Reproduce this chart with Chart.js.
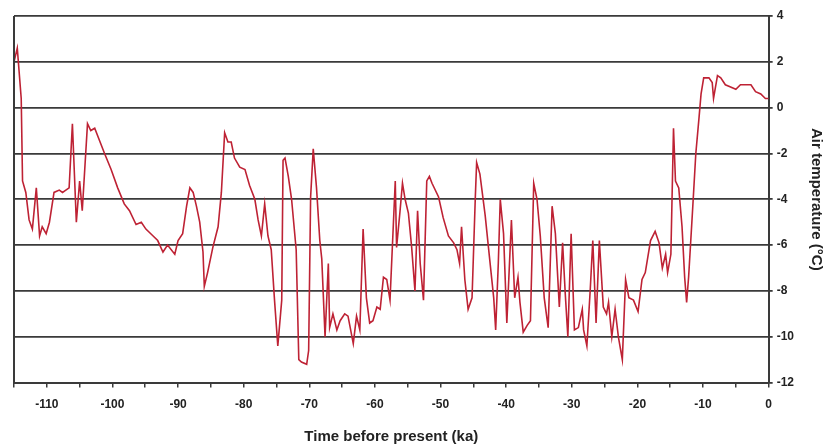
<!DOCTYPE html>
<html>
<head>
<meta charset="utf-8">
<script src="https://cdn.jsdelivr.net/npm/chart.js@4/dist/chart.umd.min.js"></script>
<style>
    html, body { margin: 0; padding: 0; background: #fff; }
    #wrap { width: 825px; height: 448px; }
</style>
</head>
<body>
<div id="wrap"><canvas id="Temp"></canvas></div>
<script>
// age in ka (negative = before present) and air temperature in degC
var Ages = [
    -115.0, -114.5, -113.9, -113.7, -113.2, -112.7, -112.2, -111.6, -111.1, -110.7,
    -110.1, -109.6, -108.9, -108.1, -107.6, -107.1, -106.6, -106.1, -105.5, -105.0,
    -104.6, -103.8, -103.3, -102.7, -101.2, -100.2, -99.2, -98.2, -97.4, -96.4,
    -95.6, -94.9, -93.8, -93.1, -92.3, -91.6, -90.5, -90.0, -89.3, -88.7,
    -88.2, -87.7, -87.2, -86.7, -86.2, -86.0, -85.5, -84.7, -83.9, -83.4,
    -82.9, -82.4, -81.9, -81.4, -80.6, -79.8, -79.1, -78.3, -77.8, -77.3,
    -76.8, -76.3, -75.8, -75.3, -74.8, -74.2, -74.0, -73.7, -73.2, -72.7,
    -72.0, -71.6, -71.2, -70.4, -70.1, -69.8, -69.4, -68.9, -68.4, -68.1,
    -67.6, -67.1, -66.9, -66.4, -65.8, -65.3, -64.6, -64.1, -63.3, -62.8,
    -62.3, -61.8, -61.3, -60.8, -60.3, -59.7, -59.2, -58.7, -58.2, -57.7,
    -56.9, -56.7, -56.2, -55.8, -55.4, -54.9, -54.4, -53.9, -53.5, -53.1,
    -52.6, -52.1, -51.7, -51.3, -50.3, -49.6, -48.8, -48.0, -47.5, -47.1,
    -46.8, -46.3, -45.8, -45.2, -44.7, -44.5, -44.0, -43.2, -42.7, -41.9,
    -41.6, -41.2, -40.9, -40.4, -39.9, -39.2, -38.7, -38.2, -37.9, -37.4,
    -36.8, -36.3, -35.8, -35.3, -34.8, -34.2, -33.6, -33.0, -32.5, -31.9,
    -31.4, -31.0, -30.6, -30.1, -29.6, -29.0, -28.4, -28.2, -27.7, -27.2,
    -26.8, -26.3, -25.8, -25.2, -24.7, -24.4, -23.9, -23.4, -22.9, -22.3,
    -21.8, -21.3, -20.6, -19.9, -19.3, -18.8, -18.0, -17.3, -16.7, -16.2,
    -15.7, -15.4, -14.9, -14.5, -14.2, -13.7, -13.2, -12.8, -12.5, -12.2,
    -11.6, -11.1, -10.6, -10.3, -9.9, -9.1, -8.6, -8.4, -7.8, -7.3,
    -6.6, -5.8, -5.0, -4.3, -3.5, -2.7, -2.0, -1.2, -0.5, 0.0
]
var Temps = [
    2.0, 2.6, 0.4, -3.2, -3.7, -4.9, -5.3, -3.5, -5.6, -5.2,
    -5.5, -5.0, -3.7, -3.6, -3.7, -3.6, -3.5, -0.7, -5.0, -3.2,
    -4.5, -0.7, -1.0, -0.9, -2.0, -2.7, -3.5, -4.2, -4.5, -5.1,
    -5.0, -5.3, -5.6, -5.8, -6.3, -6.0, -6.4, -5.8, -5.5, -4.3,
    -3.5, -3.7, -4.3, -5.0, -6.3, -7.8, -7.2, -6.1, -5.2, -3.7,
    -1.1, -1.5, -1.5, -2.2, -2.6, -2.7, -3.4, -4.0, -4.9, -5.6,
    -4.2, -5.6, -6.2, -8.4, -10.4, -8.4, -2.3, -2.2, -3.0, -4.0,
    -6.2, -11.0, -11.1, -11.2, -10.6, -3.9, -1.8, -3.5, -5.8, -6.6,
    -10.0, -6.8, -9.6, -9.0, -9.7, -9.3, -9.0, -9.1, -10.3, -9.1,
    -9.7, -5.3, -8.3, -9.4, -9.3, -8.7, -8.8, -7.4, -7.5, -8.4,
    -3.2, -6.1, -4.6, -3.3, -4.0, -4.6, -6.1, -8.0, -4.5, -6.8,
    -8.4, -3.2, -3.0, -3.3, -3.9, -4.8, -5.6, -5.9, -6.2, -6.8,
    -5.2, -7.5, -8.8, -8.3, -3.9, -2.4, -2.9, -4.7, -6.1, -8.3,
    -9.7, -6.8, -4.0, -5.5, -9.4, -4.9, -8.3, -7.4, -8.5, -9.8,
    -9.5, -9.3, -3.3, -4.0, -5.6, -8.3, -9.6, -4.3, -5.5, -8.7,
    -5.9, -8.1, -10.0, -5.5, -9.7, -9.6, -8.8, -9.7, -10.4, -8.0,
    -5.8, -9.4, -5.8, -8.7, -9.0, -8.5, -10.0, -8.8, -10.0, -11.0,
    -7.5, -8.3, -8.4, -8.9, -7.5, -7.2, -5.8, -5.4, -5.9, -7.0,
    -6.4, -7.2, -6.4, -0.9, -3.2, -3.5, -5.2, -7.4, -8.5, -7.4,
    -4.5, -2.0, -0.4, 0.6, 1.3, 1.3, 1.1, 0.4, 1.4, 1.3,
    1.0, 0.9, 0.8, 1.0, 1.0, 1.0, 0.7, 0.6, 0.4, 0.4
]
var TempTicks = [-12, -10, -8, -6, -4, -2, 0, 2, 4]

var points = []
for (var i = 0; i < Ages.length; i++) {
    points.push({ x: Ages[i], y: Temps[i] })
}

// left frame line of the plot box
var frameLeft = {
    id: 'frameLeft',
    afterDraw: function (chart) {
        var a = chart.chartArea
        var ctx = chart.ctx
        ctx.save()
        ctx.strokeStyle = '#3a3a3a'
        ctx.lineWidth = 2
        ctx.beginPath()
        ctx.moveTo(a.left, a.top)
        ctx.lineTo(a.left, a.bottom)
        ctx.stroke()
        ctx.restore()
    }
}

var ctx = document.getElementById('Temp').getContext('2d')
var myChart = new Chart(ctx, {
    type: 'scatter',
    data: {
        datasets: [{
            data: points,
            showLine: true,
            borderColor: 'rgb(190, 34, 52)',
            borderWidth: 1.6,
            pointRadius: 0,
            tension: 0
        }]
    },
    options: {
        responsive: true,
        maintainAspectRatio: false,
        animation: false,
        layout: { padding: { left: 14, top: 16, right: 0, bottom: 2 } },
        plugins: { legend: { display: false }, tooltip: { enabled: false } },
        scales: {
            x: {
                type: 'linear',
                min: -115,
                max: 0,
                grid: { drawOnChartArea: false, drawTicks: true, tickLength: 5, color: '#3a3a3a', lineWidth: 1.5 },
                border: { display: true, color: '#3a3a3a', width: 2 },
                ticks: {
                    stepSize: 5,
                    autoSkip: false,
                    maxRotation: 0,
                    padding: 10,
                    color: '#222',
                    font: { family: 'Liberation Sans', size: 12, weight: 'bold' },
                    callback: function (v) { return v % 10 === 0 ? v : '' }
                },
                title: {
                    display: true,
                    text: 'Time before present (ka)',
                    color: '#222',
                    font: { family: 'Liberation Sans', size: 15, weight: 'bold' },
                    padding: { top: 6, bottom: 0 }
                }
            },
            y: {
                position: 'right',
                min: -12,
                max: 4,
                afterBuildTicks: function (axis) {
                    axis.ticks = TempTicks.map(function (v) { return { value: v } })
                },
                grid: { color: '#3a3a3a', lineWidth: 1.8, drawTicks: true, tickLength: 4 },
                border: { display: true, color: '#3a3a3a', width: 2 },
                ticks: {
                    color: '#222',
                    padding: 4,
                    font: { family: 'Liberation Sans', size: 12, weight: 'bold' }
                },
                title: {
                    display: true,
                    text: 'Air temperature (°C)',
                    color: '#222',
                    font: { family: 'Liberation Sans', size: 15, weight: 'bold' },
                    padding: { top: 0, bottom: 9 }
                }
            }
        }
    },
    plugins: [frameLeft]
})
</script>
</body>
</html>
